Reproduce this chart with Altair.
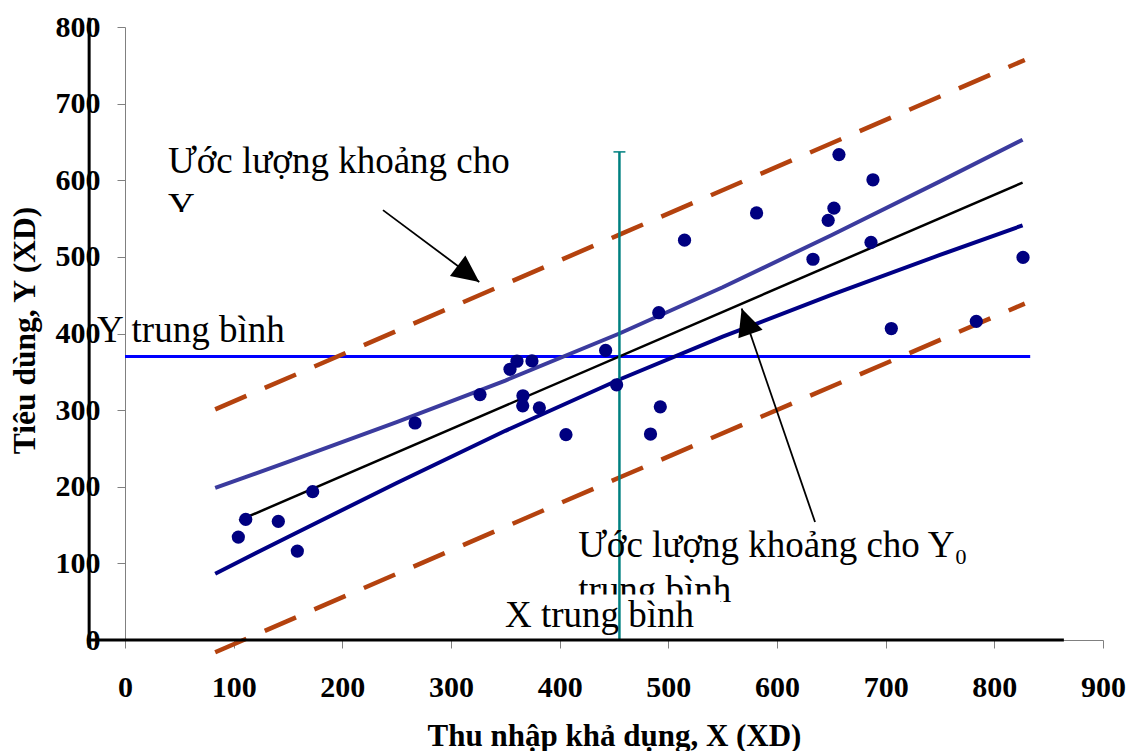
import altair as alt
import pandas as pd

# ---------------- data ----------------
# scatter points (disposable income X, consumption Y)
pts_x = [104.3, 111.1, 141.1, 158.6, 172.7, 266.9, 326.7, 354.3, 360.7, 374.5,
         366.2, 366.0, 381.3, 405.8, 442.3, 452.4, 491.2, 492.6, 483.6, 514.9,
         581.2, 633.1, 647.1, 652.4, 657.0, 688.3, 686.5, 705.2, 783.4, 826.4]
pts_y = [134.3, 157.4, 154.8, 116.0, 193.6, 283.2, 320.3, 353.3, 363.8, 364.2,
         318.7, 305.6, 303.0, 268.0, 377.9, 333.1, 427.1, 304.3, 268.8, 521.8,
         557.3, 496.9, 547.7, 563.6, 633.5, 600.6, 518.9, 406.5, 415.9, 499.3]

# confidence band for mean Y0 (solid curves)
ci_x = [83, 150, 250, 350, 455, 550, 650, 750, 826]
ci_upper = [198.5, 232.5, 284.3, 338.6, 400.0, 460.4, 528.2, 598.5, 652.9]
ci_lower = [86.5, 134.5, 204.9, 273.0, 340.0, 395.8, 450.4, 502.5, 541.1]

# prediction interval for individual Y0 (dashed lines)
pi_x = [83, 455, 828]
pi_upper = [301, 529, 757]
pi_lower = [-16, 212, 439]

# fitted regression line
reg_x = [105, 826]
reg_y = [156, 597]

# means
mean_y = 370
mean_y_xrange = [0, 833]
mean_x = 455
mean_x_top = 637

# drawn black axes of the slide
vaxis_x = -33
vaxis_y = [-10, 812]
haxis_x = [-35, 864]
haxis_y = 0

# annotation texts
txt_a1 = "Ước lượng khoảng cho"
txt_a1b = "Y₀"
txt_ybar = "Y trung bình"
txt_a2 = "Ước lượng khoảng cho Y₀"
txt_a2b = "trung bình"
txt_xbar = "X trung bình"

x_ticks = list(range(0, 1000, 100))
y_ticks = list(range(0, 900, 100))

FONT = "Liberation Serif"
XDOM = [0, 900]
YDOM = [0, 800]
ANN_SIZE = 37

x_axis = alt.Axis(
    title="Thu nhập khả dụng, X (XD)", values=x_ticks, format="d", grid=False,
    domainColor="#808080", domainWidth=1, tickColor="#808080", tickSize=8,
    labelFont=FONT, labelFontSize=30, labelFontWeight="bold", labelColor="black",
    labelBaseline="alphabetic", labelPadding=48, labelFlush=False, labelOverlap=False,
    titleFont=FONT, titleFontSize=31, titleFontWeight="bold", titleColor="black",
    titleY=105, titleBaseline="alphabetic",
)
y_axis = alt.Axis(
    title="Tiêu dùng, Y (XD)", values=y_ticks, format="d", grid=False,
    domainColor="#808080", domainWidth=1, tickColor="#808080", tickSize=8,
    labelFont=FONT, labelFontSize=30, labelFontWeight="bold", labelColor="black",
    labelPadding=17, labelFlush=False, labelOverlap=False,
    titleFont=FONT, titleFontSize=31.5, titleFontWeight="bold", titleColor="black",
    titleAngle=270, titleX=-91, titleY=303, titleBaseline="alphabetic", titleAlign="center",
)


def X(field="x"):
    return alt.X(f"{field}:Q", scale=alt.Scale(domain=XDOM, nice=False, zero=False), axis=x_axis)


def Y(field="y"):
    return alt.Y(f"{field}:Q", scale=alt.Scale(domain=YDOM, nice=False, zero=False), axis=y_axis)


df_pts = pd.DataFrame({"x": pts_x, "y": pts_y})
df_ciu = pd.DataFrame({"x": ci_x, "y": ci_upper})
df_cil = pd.DataFrame({"x": ci_x, "y": ci_lower})
df_piu = pd.DataFrame({"x": pi_x, "y": pi_upper})
df_pil = pd.DataFrame({"x": pi_x, "y": pi_lower})
df_reg = pd.DataFrame({"x": reg_x, "y": reg_y})

# ---- clipped second lines of the text boxes + white masks ----
df_clip_txt = pd.DataFrame({"x": [39.6, 417.0], "y": [550, 50], "t": [txt_a1b, txt_a2b]})
clip_txt = alt.Chart(df_clip_txt).mark_text(
    font=FONT, fontSize=ANN_SIZE, align="left", baseline="alphabetic", color="black"
).encode(x=X(), y=Y(), text="t:N")

df_mask = pd.DataFrame({"x": [32, 409], "x2": [92, 548], "y": [558.7, 59.5], "y2": [528.7, 36.6]})
mask = alt.Chart(df_mask).mark_rect(color="white", opacity=1).encode(
    x=X(), x2="x2:Q", y=Y(), y2="y2:Q")

# ---- thick black drawn axes of the slide ----
black_v = alt.Chart(pd.DataFrame({"x": [vaxis_x], "y": [vaxis_y[0]], "y2": [vaxis_y[1]]})).mark_rule(
    color="black", strokeWidth=3).encode(x=X(), y=Y(), y2="y2:Q")
black_h = alt.Chart(pd.DataFrame({"x": [haxis_x[0]], "x2": [haxis_x[1]], "y": [haxis_y]})).mark_rule(
    color="black", strokeWidth=3).encode(x=X(), x2="x2:Q", y=Y())

# ---- mean Y horizontal line ----
df_my = pd.DataFrame({"x": [mean_y_xrange[0]], "x2": [mean_y_xrange[1]], "y": [mean_y]})
mean_y_line = alt.Chart(df_my).mark_rule(color="#0000FF", strokeWidth=3).encode(
    x=X(), x2="x2:Q", y=Y())

# ---- dashed prediction lines ----
dash_style = dict(color="#B4420E", strokeWidth=4.5, strokeDash=[34, 20])
pi_u = alt.Chart(df_piu).mark_line(**dash_style).encode(x=X(), y=Y(), order="x:Q")
pi_l = alt.Chart(df_pil).mark_line(**dash_style).encode(x=X(), y=Y(), order="x:Q")

# ---- solid confidence band curves ----
ci_u = alt.Chart(df_ciu).mark_line(color="#3B3B9E", strokeWidth=4).encode(x=X(), y=Y(), order="x:Q")
ci_l = alt.Chart(df_cil).mark_line(color="#000085", strokeWidth=4).encode(x=X(), y=Y(), order="x:Q")

# ---- regression line ----
reg = alt.Chart(df_reg).mark_line(color="black", strokeWidth=2.5).encode(x=X(), y=Y(), order="x:Q")

# ---- mean X vertical line with cap ----
df_mx = pd.DataFrame({"x": [mean_x], "y": [0], "y2": [mean_x_top]})
mean_x_line = alt.Chart(df_mx).mark_rule(color="#008080", strokeWidth=2.5).encode(
    x=X(), y=Y(), y2="y2:Q")
df_cap = pd.DataFrame({"x": [mean_x - 5.5], "x2": [mean_x + 5.5], "y": [mean_x_top]})
cap = alt.Chart(df_cap).mark_rule(color="#008080", strokeWidth=1.5).encode(
    x=X(), x2="x2:Q", y=Y())

# ---- scatter points ----
points = alt.Chart(df_pts).mark_circle(color="#000080", size=175, opacity=1).encode(
    x=X(), y=Y())

# ---- other annotation texts ----
df_txt = pd.DataFrame({
    "x": [39.6, -25.8, 417.0, 349.7],
    "y": [609, 389, 108.7, 17],
    "t": [txt_a1, txt_ybar, txt_a2, txt_xbar],
})
texts = alt.Chart(df_txt).mark_text(
    font=FONT, fontSize=ANN_SIZE, align="left", baseline="alphabetic", color="black"
).encode(x=X(), y=Y(), text="t:N")

# ---- arrows ----
df_arr = pd.DataFrame({"x": [237.4, 635.0], "y": [561.0, 153.9],
                       "x2": [326.0, 567.5], "y2": [467.3, 432.6]})
arrow_lines = alt.Chart(df_arr).mark_rule(color="black", strokeWidth=1.8).encode(
    x=X(), y=Y(), x2="x2:Q", y2="y2:Q")
head_path = "M0,0 L0.95,2 L-0.95,2 Z"
head1 = alt.Chart(pd.DataFrame({"x": [326.0], "y": [467.3]})).mark_point(
    shape=head_path, filled=True, size=729, color="black", opacity=1, strokeWidth=0, angle=126.9
).encode(x=X(), y=Y())
head2 = alt.Chart(pd.DataFrame({"x": [567.5], "y": [432.6]})).mark_point(
    shape=head_path, filled=True, size=729, color="black", opacity=1, strokeWidth=0, angle=341.0
).encode(x=X(), y=Y())

chart = alt.layer(
    clip_txt, mask, mean_y_line, pi_u, pi_l, ci_u, ci_l, reg,
    mean_x_line, cap, points, texts, arrow_lines, head1, head2, black_h, black_v,
).properties(
    width=978, height=613,
    padding={"left": 125, "top": 27, "right": 26, "bottom": 111},
    autosize=alt.AutoSizeParams(type="none"),
    background="white",
).configure_view(stroke=None)

chart.save("out.html", embed_options={"renderer": "svg", "actions": False})
